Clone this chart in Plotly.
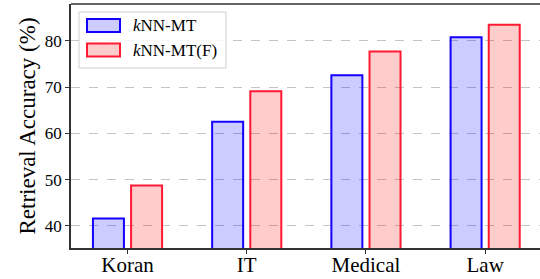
import plotly.graph_objects as go

categories = ["Koran", "IT", "Medical", "Law"]
series_names = ["<i>k</i>NN-MT", "<i>k</i>NN-MT(F)"]
knn_mt = [41.6, 62.5, 72.6, 80.8]
knn_mt_f = [48.7, 69.1, 77.7, 83.5]
y_ticks = [40, 50, 60, 70, 80]

W, H = 540, 279
L, R, T, B = 71, 0, 4, 31
PW, PH = W - L - R, H - T - B

def px(x):
    return (x - L) / PW

def py(y):
    return (H - B - y) / PH

FONT = "Liberation Serif, Times New Roman, serif"
blue_fill = "rgba(0,0,255,0.2)"
blue_line = "rgb(20,0,255)"
red_fill = "rgba(255,0,0,0.2)"
red_line = "rgb(255,25,50)"

xs = list(range(len(categories)))
fig = go.Figure()
fig.add_trace(go.Bar(x=xs, y=knn_mt, name=series_names[0], width=0.26, offset=-0.29,
                     marker=dict(color=blue_fill, line=dict(color=blue_line, width=2)),
                     showlegend=False))
fig.add_trace(go.Bar(x=xs, y=knn_mt_f, name=series_names[1], width=0.26, offset=0.03,
                     marker=dict(color=red_fill, line=dict(color=red_line, width=2)),
                     showlegend=False))

shapes = []
# top spine
shapes.append(dict(type="line", xref="paper", yref="paper", x0=0, x1=1, y0=1, y1=1,
                   line=dict(color="#333333", width=1.5)))
# legend box
lx0, lx1, ly0, ly1 = 79, 226, 12, 68
shapes.append(dict(type="rect", xref="paper", yref="paper",
                   x0=px(lx0), x1=px(lx1), y0=py(ly1), y1=py(ly0),
                   line=dict(color="#d0d0d0", width=1), fillcolor="rgba(255,255,255,0.85)",
                   layer="above"))
swatches = [(19, 32, blue_fill, blue_line), (43.5, 56.5, red_fill, red_line)]
annotations = []
for (y0, y1, fc, lc), name in zip(swatches, series_names):
    shapes.append(dict(type="rect", xref="paper", yref="paper",
                       x0=px(87), x1=px(120), y0=py(y1), y1=py(y0),
                       line=dict(color=lc, width=2), fillcolor=fc, layer="above"))
    annotations.append(dict(xref="paper", yref="paper", x=px(131), y=py((y0 + y1) / 2 + 0.5),
                            text=name, showarrow=False, xanchor="left", yanchor="middle",
                            font=dict(family=FONT, size=17, color="black")))

fig.update_layout(
    width=W, height=H,
    margin=dict(l=L, r=R, t=T, b=B, pad=0, autoexpand=False),
    plot_bgcolor="white", paper_bgcolor="white",
    font=dict(family=FONT, color="black"),
    shapes=shapes, annotations=annotations,
    showlegend=False,
    xaxis=dict(range=[-0.474, 3.46], tickmode="array", tickvals=xs, ticktext=categories,
               showgrid=False, zeroline=False, showline=True, linecolor="#333333", linewidth=1.5,
               ticks="outside", ticklen=4, tickwidth=1.2, tickcolor="#333333",
               ticklabelstandoff=-7,
               tickfont=dict(family=FONT, size=21, color="black")),
    yaxis=dict(range=[35.2, 88.0], tickmode="array", tickvals=y_ticks,
               showgrid=True, gridcolor="#c4c4c4", griddash="dash", gridwidth=1.2,
               zeroline=False, showline=True, linecolor="#333333", linewidth=1.5,
               ticks="outside", ticklen=4, tickwidth=1.2, tickcolor="#333333",
               tickfont=dict(family=FONT, size=17, color="black"),
               title=dict(text="Retrieval Accuracy (%)", standoff=3,
                          font=dict(family=FONT, size=23, color="black"))),
)

fig.write_html("out.html", config={"displayModeBar": False},
               post_script="document.body.style.margin='0';document.body.style.padding='0';")
